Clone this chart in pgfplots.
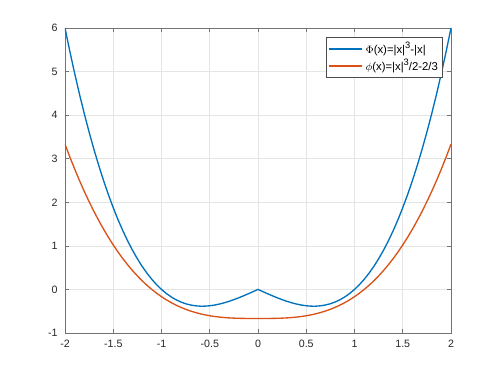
\documentclass[border=0pt]{standalone}
\usepackage{pgfplots}
\pgfplotsset{compat=1.18}
\usepackage{pgfplotstable}
\usepackage{fontspec}
\setmainfont{Liberation Sans}
\definecolor{mblue}{rgb}{0,0.447,0.741}
\definecolor{morange}{rgb}{0.85,0.325,0.098}
\pgfplotstableread{
x Phi phi
-2.00 6.000000 3.333333
-1.95 5.464875 3.040771
-1.90 4.959000 2.762833
-1.85 4.481625 2.499146
-1.80 4.032000 2.249333
-1.75 3.609375 2.013021
-1.70 3.213000 1.789833
-1.65 2.842125 1.579396
-1.60 2.496000 1.381333
-1.55 2.173875 1.195271
-1.50 1.875000 1.020833
-1.45 1.598625 0.857646
-1.40 1.344000 0.705333
-1.35 1.110375 0.563521
-1.30 0.897000 0.431833
-1.25 0.703125 0.309896
-1.20 0.528000 0.197333
-1.15 0.370875 0.093771
-1.10 0.231000 -0.001167
-1.05 0.107625 -0.087854
-1.00 0.000000 -0.166667
-0.95 -0.092625 -0.237979
-0.90 -0.171000 -0.302167
-0.85 -0.235875 -0.359604
-0.80 -0.288000 -0.410667
-0.75 -0.328125 -0.455729
-0.70 -0.357000 -0.495167
-0.65 -0.375375 -0.529354
-0.60 -0.384000 -0.558667
-0.577 -0.384900 -0.570614
-0.55 -0.383625 -0.583479
-0.50 -0.375000 -0.604167
-0.45 -0.358875 -0.621104
-0.40 -0.336000 -0.634667
-0.35 -0.307125 -0.645229
-0.30 -0.273000 -0.653167
-0.25 -0.234375 -0.658854
-0.20 -0.192000 -0.662667
-0.15 -0.146625 -0.664979
-0.10 -0.099000 -0.666167
-0.05 -0.049875 -0.666604
0.00 0.000000 -0.666667
0.05 -0.049875 -0.666604
0.10 -0.099000 -0.666167
0.15 -0.146625 -0.664979
0.20 -0.192000 -0.662667
0.25 -0.234375 -0.658854
0.30 -0.273000 -0.653167
0.35 -0.307125 -0.645229
0.40 -0.336000 -0.634667
0.45 -0.358875 -0.621104
0.50 -0.375000 -0.604167
0.55 -0.383625 -0.583479
0.577 -0.384900 -0.570614
0.60 -0.384000 -0.558667
0.65 -0.375375 -0.529354
0.70 -0.357000 -0.495167
0.75 -0.328125 -0.455729
0.80 -0.288000 -0.410667
0.85 -0.235875 -0.359604
0.90 -0.171000 -0.302167
0.95 -0.092625 -0.237979
1.00 0.000000 -0.166667
1.05 0.107625 -0.087854
1.10 0.231000 -0.001167
1.15 0.370875 0.093771
1.20 0.528000 0.197333
1.25 0.703125 0.309896
1.30 0.897000 0.431833
1.35 1.110375 0.563521
1.40 1.344000 0.705333
1.45 1.598625 0.857646
1.50 1.875000 1.020833
1.55 2.173875 1.195271
1.60 2.496000 1.381333
1.65 2.842125 1.579396
1.70 3.213000 1.789833
1.75 3.609375 2.013021
1.80 4.032000 2.249333
1.85 4.481625 2.499146
1.90 4.959000 2.762833
1.95 5.464875 3.040771
2.00 6.000000 3.333333
}\datatable
\begin{document}
\begin{tikzpicture}
\path[use as bounding box] (-48.75pt,-30.75pt) rectangle (324.75pt,249.75pt);
\begin{axis}[
  at={(0pt,0pt)}, anchor=south west,
  scale only axis, width=289.5pt, height=228.75pt,
  xmin=-2, xmax=2, ymin=-1, ymax=6,
  xtick={-2,-1.5,...,2}, ytick={-1,0,...,6},
  grid=major,
  major grid style={draw=black!10, line width=0.4pt},
  axis line style={draw=black!55, line width=0.5pt},
  tick style={draw=black!55, line width=0.5pt},
  major tick length=3pt,
  tick align=inside,
  xtick pos=both, ytick pos=both,
  /pgf/number format/assume math mode=true,
  tick label style={font=\fontsize{8}{9}\selectfont, text=black!85},
  xticklabel style={yshift=-2pt},
  yticklabel style={xshift=-2pt},
  legend style={at={(0.979,0.97)}, anchor=north east, draw=black!70, line width=0.5pt,
    font=\fontsize{8.5}{10}\selectfont, inner sep=1.5pt, row sep=-1.5pt,
    cells={anchor=west}},
  legend image code/.code={\draw[#1] (0pt,0pt) -- (25pt,0pt);},
]
\addplot[mblue, line width=1pt] table[x=x, y=Phi] {\datatable};
\addlegendentry{$\Phi$(x)=|x|\raisebox{0.45em}{\fontsize{7}{8}\selectfont 3}-|x|}
\addplot[morange, line width=1pt] table[x=x, y=phi] {\datatable};
\addlegendentry{$\phi$(x)=|x|\raisebox{0.45em}{\fontsize{7}{8}\selectfont 3}/2-2/3}
\end{axis}
\end{tikzpicture}
\end{document}
